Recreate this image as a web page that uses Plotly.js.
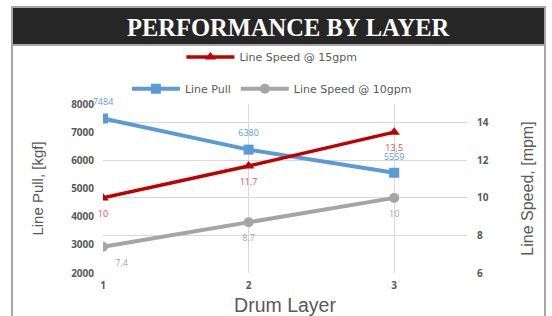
<!DOCTYPE html>
<html><head><meta charset="utf-8">
<script src="https://cdn.plot.ly/plotly-3.0.1.min.js"></script>
<style>html,body{margin:0;padding:0;background:#fff}#c{width:552px;height:316px}</style>
</head><body><div id="c"></div>
<script>
const layers = [1, 2, 3];
const linePull = [7484, 6380, 5559];
const speed15 = [10, 11.7, 13.5];
const speed10 = [7.4, 8.7, 10];
const leftTicks = [2000, 3000, 4000, 5000, 6000, 7000, 8000];
const rightTicks = [6, 8, 10, 12, 14];
const fmt = v => String(v).replace('.', ',');

function series(y, axis, name, leg, color, width, symbol) {
  return {x: layers, y: y, yaxis: axis, name: name, legend: leg, mode: 'lines+markers',
          line: {color: color, width: width}, marker: {symbol: symbol, size: 10, color: color}};
}
function labels(y, axis, color, pos, msize) {
  return {x: layers, y: y, yaxis: axis, showlegend: false, mode: 'markers+text', hoverinfo: 'skip',
          marker: {size: msize, opacity: 0}, text: y.map(fmt), textposition: pos,
          textfont: {family: 'Open Sans', size: 9, color: color}, cliponaxis: false};
}

const traces = [
  series(speed15, 'y2', 'Line Speed @ 15gpm', 'legend', '#C00000', 3.5, 'triangle-up'),
  series(linePull, 'y', 'Line Pull', 'legend2', '#5B9BD5', 4, 'square'),
  series(speed10, 'y2', 'Line Speed @ 10gpm', 'legend2', '#A5A5A5', 4, 'circle'),
  labels(speed15, 'y2', '#E04B4B', 'bottom center', 18),
  labels(linePull, 'y', '#5B9BD5', 'top center', 16),
  labels(speed10, 'y2', '#A5A5A5', ['bottom right', 'bottom center', 'bottom center'], 18)
];

const tickFont = {family: 'Open Sans', size: 10, color: '#595959', weight: 'bold'};
const titleFamily = 'Liberation Sans';
const legFont = {family: 'DejaVu Sans', size: 11, color: '#595959'};

const layout = {
  width: 552, height: 316,
  margin: {l: 103, r: 85, t: 104, b: 43},
  paper_bgcolor: '#fff', plot_bgcolor: '#fff',
  title: {text: 'PERFORMANCE BY LAYER', font: {family: 'Liberation Serif', size: 24.5, color: '#fff', weight: 'bold'},
          x: 0.522, xref: 'container', xanchor: 'center', y: 0.912, yref: 'container', yanchor: 'middle'},
  xaxis: {range: [1, 3.5], tickvals: layers, ticktext: layers.map(String), showgrid: true, gridcolor: '#D9D9D9',
          zeroline: false, showline: false, ticks: '', tickfont: tickFont, ticklabelstandoff: 5,
          title: {text: 'Drum Layer', font: {family: titleFamily, size: 19.5, color: '#595959'}, standoff: 7}},
  yaxis: {range: [2000, 8000], tickvals: leftTicks, showgrid: false, zeroline: false, showline: false,
          ticks: '', tickfont: tickFont, ticklabelstandoff: 8,
          title: {text: 'Line Pull, [kgf]', font: {family: titleFamily, size: 15, color: '#595959'}, standoff: 23}},
  yaxis2: {range: [6, 15], tickvals: rightTicks, overlaying: 'y', side: 'right', showgrid: true,
           gridcolor: '#D9D9D9', zeroline: false, showline: false, ticks: '', tickfont: tickFont,
           ticklabelstandoff: 9, title: {text: 'Line Speed, [mpm]', font: {family: titleFamily, size: 16, color: '#595959'}, standoff: 34}},
  legend: {orientation: 'h', x: 0.464, xanchor: 'center', y: 1.278, yanchor: 'middle', font: legFont,
           bgcolor: 'rgba(0,0,0,0)', traceorder: 'normal', itemwidth: 48},
  legend2: {orientation: 'h', x: 0.464, xanchor: 'center', y: 1.09, yanchor: 'middle', font: legFont,
            bgcolor: 'rgba(0,0,0,0)', traceorder: 'normal', itemwidth: 48},
  shapes: [
    {type: 'rect', xref: 'paper', yref: 'paper', x0: (12 - 103) / 364, x1: (545 - 103) / 364,
     y0: -0.5, y1: (273 - 7) / 169, line: {color: '#A6A6A6', width: 2}, fillcolor: 'rgba(0,0,0,0)', layer: 'below'},
    {type: 'rect', xref: 'paper', yref: 'paper', x0: (12 - 103) / 364, x1: (545 - 103) / 364,
     y0: (273 - 45) / 169, y1: (273 - 7) / 169, line: {color: '#A6A6A6', width: 2}, fillcolor: '#262626', layer: 'below'}
  ],
  showlegend: true
};
Plotly.newPlot('c', traces, layout, {displayModeBar: false, staticPlot: true});
</script></body></html>
